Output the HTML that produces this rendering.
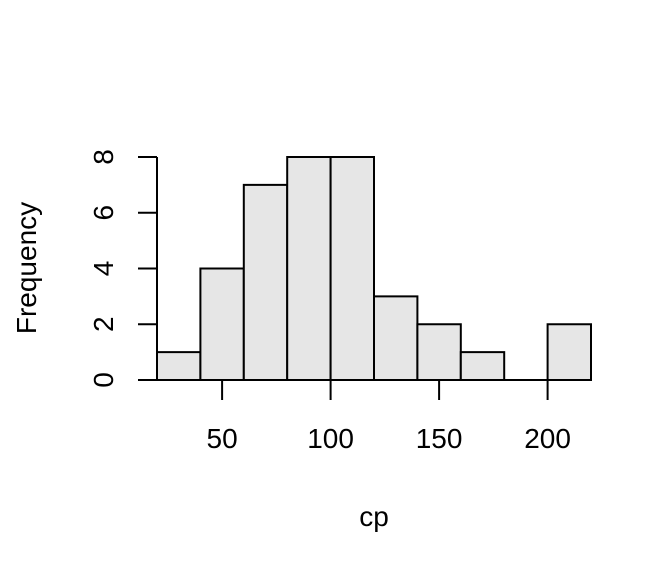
<!DOCTYPE html>
<html><head><meta charset="utf-8"><style>
html,body{margin:0;padding:0;background:#fff}
svg{display:block;font-family:"Liberation Sans",Arial,sans-serif}
</style></head><body>
<svg width="672" height="576" viewBox="0 0 672 576">
<g id="xaxis"></g>
<g id="yaxis"></g>
<g id="bars"></g>
<text x="374" y="526" font-size="28" text-anchor="middle">cp</text>
<text transform="translate(36,268) rotate(-90)" font-size="28" text-anchor="middle">Frequency</text>
</svg>
<script>
const binEdges=[20,40,60,80,100,120,140,160,180,200,220];
const counts=[1,4,7,8,8,3,2,1,0,2];
const xTicks=[50,100,150,200];
const yTicks=[0,2,4,6,8];
const NS="http://www.w3.org/2000/svg";
const xs=v=>157+(v-20)*(591-157)/200;
const ys=v=>380-v*(380-157)/8;
function mk(tag,attrs,parent,text){const e=document.createElementNS(NS,tag);for(const k in attrs)e.setAttribute(k,attrs[k]);if(text!==undefined)e.textContent=text;parent.appendChild(e);return e;}
const bars=document.getElementById('bars');
counts.forEach((c,i)=>{
  const x0=xs(binEdges[i]),x1=xs(binEdges[i+1]),y0=ys(0),y1=ys(c);
  const r=mk('path',{d:`M${x0},${y0}L${x0},${y1}L${x1},${y1}L${x1},${y0}Z`,fill:'#e6e6e6',stroke:'#000','stroke-width':2},bars);
  
  
});
const xa=document.getElementById('xaxis');
xTicks.forEach(t=>{
  mk('line',{x1:xs(t),x2:xs(t),y1:380,y2:400,stroke:'#000','stroke-width':2},xa);
  const l=mk('text',{x:xs(t),y:448,'font-size':28,'text-anchor':'middle'},xa,String(t));
  
  
});
const ya=document.getElementById('yaxis');
mk('line',{x1:157,x2:157,y1:ys(yTicks[0]),y2:ys(yTicks[yTicks.length-1]),stroke:'#000','stroke-width':2},ya);
yTicks.forEach(t=>{
  mk('line',{x1:138,x2:157,y1:ys(t),y2:ys(t),stroke:'#000','stroke-width':2},ya);
  const l=mk('text',{transform:`translate(113,${ys(t)}) rotate(-90)`,'font-size':28,'text-anchor':'middle'},ya,String(t));
  
  
});
</script>
</body></html>
